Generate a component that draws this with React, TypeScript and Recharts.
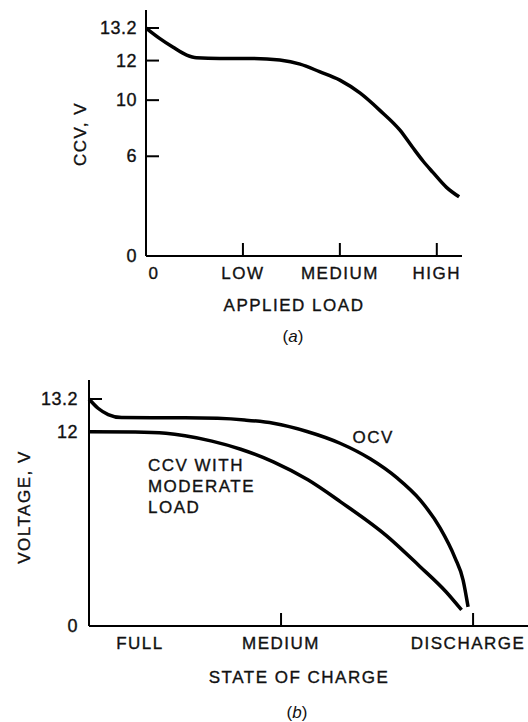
import { LineChart, Line, XAxis, YAxis, ReferenceDot } from 'recharts';

// (a) closed-circuit voltage against applied load
const loadTicks = [0, 1, 2, 3];
const loadLabels = ['0', 'LOW', 'MEDIUM', 'HIGH'];
const loadPoints = [0, 0.14, 0.28, 0.42, 0.52, 0.76, 1.11, 1.38, 1.59, 1.79, 2.0, 2.21, 2.41, 2.62, 2.75, 2.86, 2.96, 3.1, 3.23];
const ccvByLoad = [13.2, 12.82, 12.49, 12.2, 12.1, 12.08, 12.08, 12.02, 11.82, 11.44, 11.01, 10.35, 9.29, 7.86, 6.64, 5.7, 5.03, 4.13, 3.56];
const voltTicksA = [0, 6, 10, 12, 13.2];

// (b) OCV and CCV against state of charge
const chargeTicks = [0, 1, 2];
const chargeLabels = ['FULL', 'MEDIUM', 'DISCHARGE'];
const ocvCharge = [0, 0.047, 0.1, 0.17, 0.33, 0.5, 0.67, 0.81, 0.96, 1.135, 1.307, 1.464, 1.604, 1.724, 1.828, 1.906, 1.948, 1.974];
const ocvValues = [13.2, 12.86, 12.63, 12.52, 12.51, 12.51, 12.49, 12.43, 12.31, 12.01, 11.29, 10.33, 9.15, 7.79, 6.06, 4.21, 2.84, 1.18];
const ccvCharge = [0, 0.24, 0.4, 0.5, 0.64, 0.79, 0.96, 1.14, 1.31, 1.55, 1.72, 1.86, 1.94];
const ccvValues = [12, 11.98, 11.9, 11.75, 11.42, 10.92, 10.14, 9.03, 7.67, 5.57, 3.71, 2.1, 0.99];
const voltTicksB = [0, 12, 13.2];

const zip = (xs: number[], vs: number[]) => xs.map((x, i) => ({ x, v: vs[i] }));
const dataA = zip(loadPoints, ccvByLoad);
const ocvData = zip(ocvCharge, ocvValues);
const ccvData = zip(ccvCharge, ccvValues);

const FONT = '"Liberation Sans", Arial, Helvetica, sans-serif';
const INK = '#111';

// the drawing's voltage axis is not linear: each labelled value sits at its own spot
function piecewiseScale(stops: number[], fracs: number[]) {
  let dom = [stops[0], stops[stops.length - 1]];
  let rng = [0, 1];
  const scale: any = (v: number) => {
    let i = 0;
    while (i < stops.length - 2 && v > stops[i + 1]) i++;
    const t = (v - stops[i]) / (stops[i + 1] - stops[i]);
    const f = fracs[i] + t * (fracs[i + 1] - fracs[i]);
    return rng[0] + f * (rng[1] - rng[0]);
  };
  scale.domain = (d?: number[]) => {
    if (d === undefined) return dom.slice();
    dom = d.slice();
    return scale;
  };
  scale.range = (r?: number[]) => {
    if (r === undefined) return rng.slice();
    rng = r.slice();
    return scale;
  };
  scale.ticks = () => stops.slice();
  scale.copy = () => piecewiseScale(stops, fracs).domain(dom).range(rng);
  return scale;
}

const scaleA = piecewiseScale(voltTicksA, [0, 99.5 / 227.5, 155.5 / 227.5, 195 / 227.5, 1]);
const scaleB = piecewiseScale(voltTicksB, [0, 194 / 226.7, 1]);

const textStyle = { fontFamily: FONT, fill: INK, stroke: INK, strokeWidth: 0.35 };

const YTick = (props: any) => {
  const { x, y, payload, gap } = props;
  const v = payload.value;
  return (
    <g>
      {v !== 0 && <line x1={x} x2={x + 13} y1={y} y2={y} stroke="#000" strokeWidth={2} />}
      <text x={x - gap} y={y} textAnchor="end" dominantBaseline="central" fontSize={18} letterSpacing={0.5} style={textStyle}>
        {v}
      </text>
    </g>
  );
};

const XTick = (props: any) => {
  const { x, y, payload, ticks, labels, firstDx, lastDx = 0 } = props;
  const i = ticks.indexOf(payload.value);
  const dx = i === 0 ? firstDx : i === ticks.length - 1 ? lastDx : 0;
  return (
    <g>
      {payload.value !== 0 && <line x1={x} x2={x} y1={y - 13} y2={y} stroke="#000" strokeWidth={2} />}
      <text x={x + dx} y={y + 17} textAnchor="middle" dominantBaseline="central" fontSize={17} letterSpacing={1.5} style={textStyle}>
        {labels[i]}
      </text>
    </g>
  );
};

const AxisTitle = (props: any) => {
  const { viewBox, text, dx, dy, vertical } = props;
  if (!viewBox) return null;
  const cx = viewBox.x + dx;
  const cy = viewBox.y + dy;
  return (
    <text x={cx} y={cy} textAnchor="middle" dominantBaseline="central" transform={vertical ? `rotate(-90 ${cx} ${cy})` : undefined} fontSize={17} letterSpacing={1.5} style={textStyle}>
      {text}
    </text>
  );
};

const Note = (props: any) => {
  const { viewBox, lines, anchor } = props;
  if (!viewBox) return null;
  const cx = viewBox.x + viewBox.width / 2;
  const cy = viewBox.y + viewBox.height / 2;
  return (
    <text x={cx} y={cy} textAnchor={anchor} dominantBaseline="central" fontSize={17} letterSpacing={1.5} style={textStyle}>
      {lines.map((l: string, i: number) => (
        <tspan key={i} x={cx} dy={i === 0 ? 0 : 21}>{l}</tspan>
      ))}
    </text>
  );
};

const Caption = ({ letter, top, center }: { letter: string; top: number; center: number }) => (
  <div style={{ position: 'absolute', top, left: center - 30, width: 60, textAlign: 'center', fontFamily: FONT, fontSize: 17, lineHeight: '20px', color: INK }}>
    (<i>{letter}</i>)
  </div>
);

const App = () => {
  const axisStroke = { stroke: '#000', strokeWidth: 2 };
  return (
    <div style={{ position: 'relative', width: 528, height: 722, background: '#fff', overflow: 'hidden' }}>
      <style>{'body{margin:0}'}</style>

      <div style={{ position: 'absolute', top: 0, left: 0 }}>
        <LineChart width={528} height={320} margin={{ top: 10, right: 66, bottom: 0, left: 0 }}>
          <XAxis
            type="number"
            dataKey="x"
            domain={[0, 3.26]}
            ticks={loadTicks}
            interval={0}
            height={64}
            axisLine={axisStroke}
            tickLine={false}
            tickSize={0}
            tickMargin={0}
            tick={<XTick ticks={loadTicks} labels={loadLabels} firstDx={8} />}
            label={<AxisTitle text="APPLIED LOAD" dx={148} dy={49} />}
          />
          <YAxis
            type="number"
            domain={[0, 13.2]}
            scale={scaleA}
            ticks={voltTicksA}
            interval={0}
            width={146}
            padding={{ top: 18, bottom: 0 }}
            axisLine={axisStroke}
            tickLine={false}
            tickSize={0}
            tickMargin={0}
            tick={<YTick gap={9} />}
            label={<AxisTitle text="CCV, V" dx={80} dy={124} vertical />}
          />
          <Line data={dataA} dataKey="v" type="monotone" stroke="#000" strokeWidth={3.5} dot={false} activeDot={false} isAnimationActive={false} />
        </LineChart>
      </div>
      <Caption letter="a" top={327} center={293} />

      <div style={{ position: 'absolute', top: 360, left: 0 }}>
        <LineChart width={528} height={340} margin={{ top: 20, right: 0, bottom: 0, left: 0 }}>
          <XAxis
            type="number"
            dataKey="x"
            domain={[0, 2.286]}
            ticks={chargeTicks}
            interval={0}
            height={74}
            axisLine={axisStroke}
            tickLine={false}
            tickSize={0}
            tickMargin={0}
            tick={<XTick ticks={chargeTicks} labels={chargeLabels} firstDx={51} lastDx={-5} />}
            label={<AxisTitle text="STATE OF CHARGE" dx={210} dy={51} />}
          />
          <YAxis
            type="number"
            domain={[0, 13.2]}
            scale={scaleB}
            ticks={voltTicksB}
            interval={0}
            width={89}
            padding={{ top: 19, bottom: 0 }}
            axisLine={axisStroke}
            tickLine={false}
            tickSize={0}
            tickMargin={0}
            tick={<YTick gap={11} />}
            label={<AxisTitle text="VOLTAGE, V" dx={24} dy={127} vertical />}
          />
          <Line data={ocvData} dataKey="v" name="OCV" type="monotone" stroke="#000" strokeWidth={3.5} dot={false} activeDot={false} isAnimationActive={false} />
          <Line data={ccvData} dataKey="v" name="CCV with moderate load" type="monotone" stroke="#000" strokeWidth={3.5} dot={false} activeDot={false} isAnimationActive={false} />
          <ReferenceDot x={1.48} y={11.69} r={1} fill="none" stroke="none" label={<Note lines={['OCV']} anchor="middle" />} />
          <ReferenceDot x={0.307} y={9.96} r={1} fill="none" stroke="none" label={<Note lines={['CCV WITH', 'MODERATE', 'LOAD']} anchor="start" />} />
        </LineChart>
      </div>
      <Caption letter="b" top={703} center={297} />
    </div>
  );
};

export default App;
